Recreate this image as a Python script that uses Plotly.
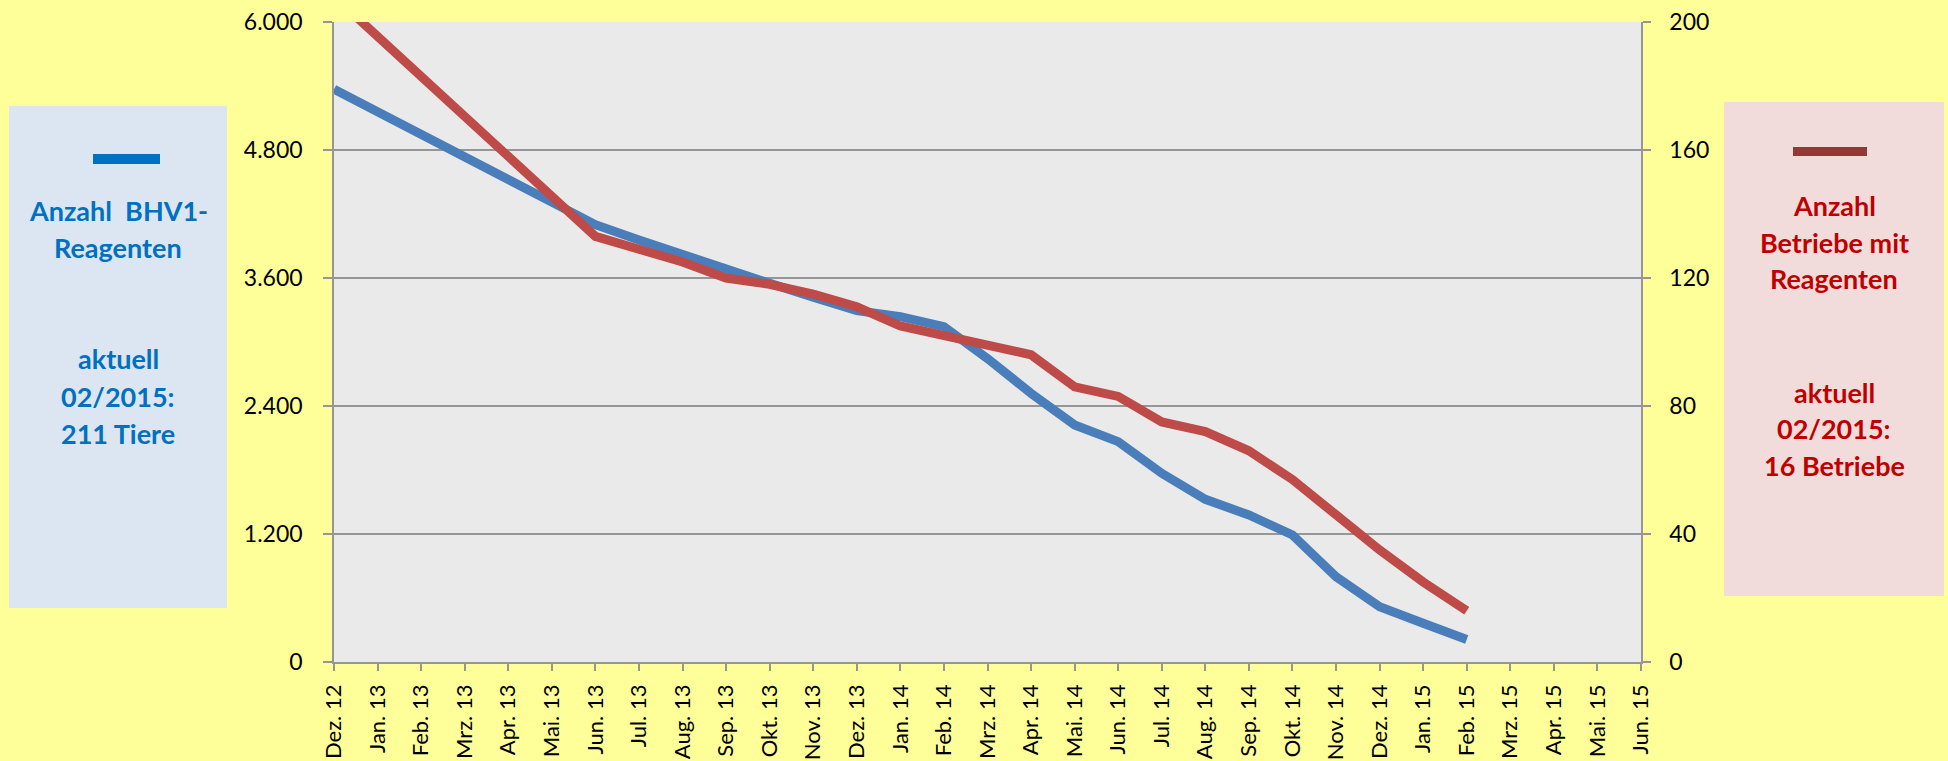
import plotly.graph_objects as go

# ---------------- data ----------------
months = ["Dez. 12", "Jan. 13", "Feb. 13", "Mrz. 13", "Apr. 13", "Mai. 13", "Jun. 13",
          "Jul. 13", "Aug. 13", "Sep. 13", "Okt. 13", "Nov. 13", "Dez. 13", "Jan. 14",
          "Feb. 14", "Mrz. 14", "Apr. 14", "Mai. 14", "Jun. 14", "Jul. 14", "Aug. 14",
          "Sep. 14", "Okt. 14", "Nov. 14", "Dez. 14", "Jan. 15", "Feb. 15", "Mrz. 15",
          "Apr. 15", "Mai. 15", "Jun. 15"]

# Anzahl BHV1-Reagenten (left axis)
reagenten = [5370, None, None, None, None, None, 4100, 3956, 3815, 3675, 3550, 3419,
             3294, 3237, 3144, 2845, 2519, 2222, 2066, 1769, 1525, 1378, 1191, 800,
             519, 363, 211, None, None, None, None]

# Anzahl Betriebe mit Reagenten (right axis)
betriebe = [208, None, None, None, None, None, 133, 129, 125, 120, 118, 115,
            111, 105, 102, 99, 96, 86, 83, 75, 72, 66, 57, 46,
            35, 25, 16, None, None, None, None]

left_ticks = [0, 1200, 2400, 3600, 4800, 6000]
right_ticks = [0, 40, 80, 120, 160, 200]

left_text = ["Anzahl\u00a0\u00a0BHV1-", "Reagenten", "aktuell", "02/2015:", "211 Tiere"]
right_text = ["Anzahl", "Betriebe mit", "Reagenten", "aktuell", "02/2015:", "16 Betriebe"]

# ---------------- layout geometry ----------------
W, H = 1948, 761
L, R, T, B = 334, 1641, 22, 662

left_baselines = [220, 257, 368, 406, 443]
right_baselines = [215, 252, 288, 402, 438, 475]
PANEL_FS = 27


def px_x(p):
    return (p - L) / (R - L)


def px_y(p):
    return (B - p) / (B - T)


FONT = "Lato, 'Liberation Sans', Arial, sans-serif"
BLUE = "#4A7EBB"
RED = "#BE4B48"
GRID = "#969696"

fig = go.Figure()
fig.add_trace(go.Scatter(x=months, y=reagenten, mode="lines", connectgaps=True,
                         line=dict(color=BLUE, width=9), yaxis="y", name="Reagenten"))
fig.add_trace(go.Scatter(x=months, y=betriebe, mode="lines", connectgaps=True,
                         line=dict(color=RED, width=9), yaxis="y2", name="Betriebe"))

shapes = [
    dict(type="rect", xref="paper", yref="paper", x0=px_x(9), x1=px_x(227),
         y0=px_y(608), y1=px_y(106), fillcolor="#DCE6F2", line=dict(width=0), layer="below"),
    dict(type="rect", xref="paper", yref="paper", x0=px_x(1724), x1=px_x(1944),
         y0=px_y(596), y1=px_y(102), fillcolor="#F2DCDB", line=dict(width=0), layer="below"),
    dict(type="rect", xref="paper", yref="paper", x0=px_x(93), x1=px_x(160),
         y0=px_y(164), y1=px_y(154), fillcolor="#0070C0", line=dict(width=0)),
    dict(type="rect", xref="paper", yref="paper", x0=px_x(1793), x1=px_x(1867),
         y0=px_y(156), y1=px_y(147), fillcolor="#953735", line=dict(width=0)),
]

annotations = []
for txt, base in zip(left_text, left_baselines):
    annotations.append(dict(xref="paper", yref="paper", x=px_x(118),
                            y=px_y(base - 0.35 * PANEL_FS), xanchor="center",
                            yanchor="middle", showarrow=False, text="<b>%s</b>" % txt,
                            font=dict(family=FONT, size=PANEL_FS, color="#0070C0")))
for txt, base in zip(right_text, right_baselines):
    annotations.append(dict(xref="paper", yref="paper", x=px_x(1834),
                            y=px_y(base - 0.35 * PANEL_FS), xanchor="center",
                            yanchor="middle", showarrow=False, text="<b>%s</b>" % txt,
                            font=dict(family=FONT, size=PANEL_FS, color="#C00000")))

fig.update_layout(
    width=W, height=H,
    margin=dict(l=L, r=W - R, t=T, b=H - B, autoexpand=False),
    paper_bgcolor="#FFFF99",
    plot_bgcolor="#EAEAEA",
    separators=",.",
    showlegend=False,
    font=dict(family=FONT, size=23, color="#000000"),
    shapes=shapes,
    annotations=annotations,
    xaxis=dict(type="category", range=[0, len(months) - 1], tickangle=-90,
               showgrid=False, showline=True, linecolor=GRID, linewidth=1.5,
               ticks="outside", ticklen=7, tickcolor=GRID, tickwidth=1.5,
               ticklabelstandoff=5, tickfont=dict(size=22)),
    yaxis=dict(range=[0, 6000], tickvals=left_ticks, tickformat=",d",
               showgrid=True, gridcolor=GRID, gridwidth=1.5, zeroline=False,
               showline=True, linecolor=GRID, linewidth=1.5,
               ticks="outside", ticklen=9, tickcolor=GRID, tickwidth=1.5,
               ticklabelstandoff=16),
    yaxis2=dict(range=[0, 200], tickvals=right_ticks, overlaying="y", side="right",
                showgrid=False, zeroline=False, showline=True, linecolor=GRID,
                linewidth=1.5, ticks="outside", ticklen=8, tickcolor=GRID,
                tickwidth=1.5, ticklabelstandoff=14),
)

fig.write_html(
    "out.html",
    config={"displayModeBar": False},
    post_script="document.body.style.margin='0';document.body.style.background='#FFFF99';",
)
